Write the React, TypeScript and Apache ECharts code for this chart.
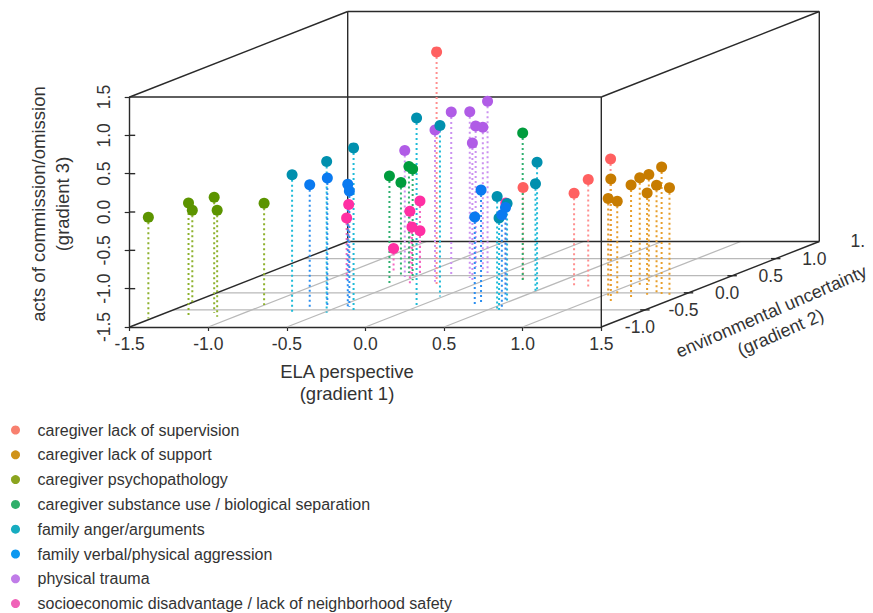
import React, { useEffect, useRef } from "react";
import * as echarts from "echarts";

// [gradient 1, gradient 2, gradient 3]
const supervision = [[-0.23, -0.27, 1.54], [0.27, -0.18, -0.27], [0.70, -0.37, -0.26], [0.79, -0.37, -0.08], [0.96, -0.42, 0.21]];
const support = [[1.15, -0.76, 0.10], [1.05, -0.61, -0.22], [1.08, -0.56, -0.28], [1.24, -0.69, -0.01], [1.09, -0.32, -0.08], [1.12, -0.27, -0.06], [1.27, -0.56, -0.17], [1.33, -0.56, -0.07], [1.39, -0.61, 0.19], [1.44, -0.61, -0.08]];
const psychopathology = [[-1.52, -1.25, -0.18], [-1.27, -1.24, 0.00], [-1.49, -0.80, -0.29], [-1.19, -1.09, 0.01], [-1.11, -1.20, -0.11], [-1.00, -0.86, -0.17]];
const substance = [[-0.53, -0.27, -0.08], [-0.59, -0.03, -0.27], [-0.60, 0.08, -0.11], [-0.46, -0.13, -0.05], [0.24, -0.13, 0.42]];
const anger = [[-0.70, -1.08, 0.30], [-0.48, -1.08, 0.47], [-0.32, -1.06, 0.64], [-0.03, -0.86, 0.94], [-0.02, -0.61, 0.73], [0.52, -0.47, 0.19], [0.51, -0.47, -0.09], [0.56, -1.00, -0.02], [0.60, -1.05, -0.28], [0.49, -0.76, -0.22]];
const aggression = [[-0.66, -0.95, 0.11], [-0.57, -0.91, 0.18], [-0.44, -0.91, 0.10], [-0.43, -0.91, 0.01], [0.38, -0.86, 0.00], [0.34, -0.86, -0.35], [0.59, -1.00, -0.26], [0.48, -0.76, -0.27]];
const trauma = [[-0.56, -0.04, 0.15], [-0.29, -0.18, 0.48], [-0.27, -0.03, 0.65], [-0.13, -0.07, 0.67], [-0.27, 0.25, 0.34], [-0.18, 0.17, 0.36], [-0.08, -0.13, 0.29], [-0.10, 0.08, 0.74]];
const socioeconomic = [[-1.00, 0.11, -0.62], [-0.88, -0.13, -0.69], [-0.53, 0.08, -0.56], [-0.40, -0.27, -0.54], [-0.52, -0.03, -0.85], [-0.53, 0.08, -0.95], [-0.72, 0.12, -1.20], [0.21, -0.27, -0.43]];

const legendNames = [
  "caregiver lack of supervision",
  "caregiver lack of support",
  "caregiver psychopathology",
  "caregiver substance use / biological separation",
  "family anger/arguments",
  "family verbal/physical aggression",
  "physical trauma",
  "socioeconomic disadvantage / lack of neighborhood safety",
];
const legendColors = ["#F8806F", "#CF9218", "#8BA41F", "#2FAF6A", "#17ACC0", "#0C98F0", "#C07CE8", "#F062B8"];
const pointColors = ["#FF6060", "#C77C00", "#5C9400", "#009C3D", "#0090AE", "#0A7AF0", "#B05CE6", "#FF2FA3"];
const stemColors = ["#FF8F8F", "#E89F2C", "#8DB12C", "#2FB070", "#1FBBD8", "#2B8EF0", "#CB92F0", "#F468C0"];
const groups = [supervision, support, psychopathology, substance, anger, aggression, trauma, socioeconomic];
const drawOrder = [7, 6, 0, 1, 2, 3, 4, 5];

const axisTicks = [-1.5, -1, -0.5, 0, 0.5, 1, 1.5];
const depthTicks = [-1, -0.5, 0, 0.5];
const depthLabels = [[-1, "-1.0"], [-0.5, "-0.5"], [0, "0.0"], [0.5, "0.5"], [1, "1.0"], [1.5, "1."]];
const LOW = -1.5, HIGH = 1.5, BACK = 1.0;

// oblique projection of the third dimension onto the chart's cartesian axes
const SHIFT_X = 0.5547, SHIFT_Z = 0.446;
const project = (a: number, b: number, c: number) => [a + (b - LOW) * SHIFT_X, c + (b - LOW) * SHIFT_Z];
const seg = (p: number[], q: number[]) => [...p, ...q];

const gridSegs: number[][] = [];
for (const t of axisTicks.slice(1, -1)) gridSegs.push(seg(project(t, LOW, LOW), project(t, BACK, LOW)));
for (const t of depthTicks) gridSegs.push(seg(project(LOW, t, LOW), project(HIGH, t, LOW)));

const frameSegs: number[][] = [
  seg(project(LOW, LOW, HIGH), project(HIGH, LOW, HIGH)),
  seg(project(HIGH, LOW, LOW), project(HIGH, LOW, HIGH)),
  seg(project(LOW, LOW, HIGH), project(LOW, BACK, HIGH)),
  seg(project(HIGH, LOW, HIGH), project(HIGH, BACK, HIGH)),
  seg(project(LOW, BACK, HIGH), project(HIGH, BACK, HIGH)),
  seg(project(LOW, BACK, LOW), project(LOW, BACK, HIGH)),
  seg(project(HIGH, BACK, LOW), project(HIGH, BACK, HIGH)),
  seg(project(LOW, LOW, LOW), project(LOW, BACK, LOW)),
  seg(project(HIGH, LOW, LOW), project(HIGH, BACK, LOW)),
  seg(project(LOW, BACK, LOW), project(HIGH, BACK, LOW)),
];
for (const t of axisTicks.slice(1, -1)) frameSegs.push(seg(project(LOW, LOW, t), project(LOW + 0.035, LOW, t)));
for (const t of depthTicks) {
  const [x, z] = project(HIGH, t, LOW);
  frameSegs.push([x - 0.03, z, x + 0.03, z]);
}

const segmentSeries = (data: number[][], stroke: string, width: number, dash: any, z: number) => ({
  type: "custom",
  silent: true,
  z,
  clip: false,
  legendHoverLink: false,
  data,
  renderItem: (_: any, api: any) => {
    const a = api.coord([api.value(0), api.value(1)]);
    const b = api.coord([api.value(2), api.value(3)]);
    return {
      type: "line",
      shape: { x1: a[0], y1: a[1], x2: b[0], y2: b[1] },
      style: { stroke, lineWidth: width, lineDash: dash, fill: null },
    };
  },
});

const FONT = "'Liberation Sans', Arial, sans-serif";
const TEXT = "#333333";

export default function App() {
  const ref = useRef<HTMLDivElement>(null);
  useEffect(() => {
    const chart = echarts.init(ref.current!, undefined, { renderer: "svg" });
    const axisBase = {
      type: "value",
      min: LOW,
      max: HIGH,
      interval: 0.5,
      splitLine: { show: false },
      axisLine: { show: true, onZero: false, lineStyle: { color: "#2a2a2a", width: 1.4 } },
      axisTick: { show: true, length: 4, lineStyle: { color: "#2a2a2a", width: 1.2 } },
    };
    const stems = drawOrder.map((i) =>
      segmentSeries(
        groups[i].map(([a, b, c]) => seg(project(a, b, c), project(a, b, LOW))),
        stemColors[i], 2, [2, 3], 3,
      ),
    );
    const points = drawOrder.map((i) => ({
      type: "scatter",
      name: legendNames[i],
      clip: false,
      z: 5,
      symbol: "circle",
      symbolSize: 11,
      itemStyle: { color: pointColors[i], opacity: 1 },
      data: groups[i].map(([a, b, c]) => project(a, b, c)),
    }));
    chart.setOption({
      animation: false,
      backgroundColor: "#ffffff",
      textStyle: { fontFamily: FONT },
      grid: { left: 129.7, top: 97, width: 471.6, height: 230, containLabel: false },
      xAxis: {
        ...axisBase,
        axisLabel: { margin: 8, fontSize: 17.5, color: TEXT, fontFamily: FONT, formatter: (v: number) => v.toFixed(1) },
      },
      yAxis: {
        ...axisBase,
        axisTick: { show: true, length: 5, lineStyle: { color: "#2a2a2a", width: 1.2 } },
        axisLabel: { margin: 17, rotate: 90, fontSize: 17.5, color: TEXT, fontFamily: FONT, formatter: (v: number) => v.toFixed(1) },
      },
      legend: {
        orient: "vertical",
        left: 11,
        top: 422,
        height: 191,
        padding: 0,
        itemWidth: 20,
        itemHeight: 9,
        itemGap: 8.8,
        icon: "circle",
        selectedMode: false,
        textStyle: { fontSize: 16, color: TEXT, fontFamily: FONT, height: 16, lineHeight: 16, padding: [0, 0, 0, 7] },
        data: legendNames.map((name, i) => ({ name, itemStyle: { color: legendColors[i] } })),
      },
      series: [
        segmentSeries(gridSegs, "#b9b9b9", 1.3, null, 1),
        segmentSeries(frameSegs, "#2a2a2a", 1.4, null, 2),
        ...stems,
        ...points,
        {
          type: "custom",
          silent: true,
          clip: false,
          z: 4,
          data: depthLabels,
          renderItem: (p: any, api: any) => {
            const item = depthLabels[p.dataIndex];
            const [cx, cz] = project(HIGH, item[0] as number, LOW);
            const c = api.coord([cx, cz]);
            return {
              type: "text",
              x: c[0] - 5,
              y: c[1] + 17,
              style: { text: item[1], fontSize: 17.5, fill: TEXT, fontFamily: FONT, align: "center", verticalAlign: "middle" },
            };
          },
        },
      ],
      graphic: [
        { type: "text", x: 347, y: 382, style: { text: "ELA perspective\n(gradient 1)", fontSize: 18.5, lineHeight: 22, fill: TEXT, fontFamily: FONT, align: "center", verticalAlign: "middle" } },
        { type: "text", x: 50, y: 204, rotation: Math.PI / 2, style: { text: "acts of commission/omission\n(gradient 3)", fontSize: 18.5, lineHeight: 24, fill: TEXT, fontFamily: FONT, align: "center", verticalAlign: "middle" } },
        { type: "text", x: 776, y: 322, rotation: 0.41, style: { text: "environmental uncertainty\n(gradient 2)", fontSize: 18, lineHeight: 23, fill: TEXT, fontFamily: FONT, align: "center", verticalAlign: "middle" } },
      ],
    });
    return () => chart.dispose();
  }, []);
  return <div ref={ref} style={{ position: "absolute", left: 0, top: 0, width: 873, height: 613 }} />;
}
